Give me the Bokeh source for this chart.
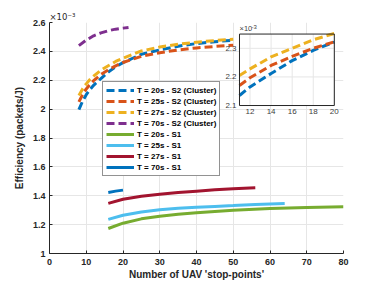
from bokeh.plotting import figure
from bokeh.models import Range1d, FixedTicker, Legend, LegendItem, Label
from bokeh.embed import file_html
from bokeh.resources import INLINE
from bokeh.core.properties import value

# ---------------- data (efficiency in units of 1e-3 packets/J) ----------------
s2_x = [8, 9, 10, 11, 12, 14, 16, 18, 20, 25, 30, 35, 40, 45, 50]
s2_t20 = [1.997, 2.055, 2.10, 2.135, 2.165, 2.212, 2.257, 2.293, 2.322, 2.38, 2.41, 2.436, 2.454, 2.467, 2.478]
s2_t25 = [2.05, 2.10, 2.14, 2.17, 2.197, 2.24, 2.272, 2.30, 2.323, 2.366, 2.391, 2.41, 2.424, 2.434, 2.443]
s2_t27 = [2.095, 2.14, 2.175, 2.205, 2.228, 2.27, 2.30, 2.33, 2.352, 2.403, 2.43, 2.449, 2.464, 2.475, 2.484]
s2_t70_x = [8, 10, 12, 14, 16, 18, 20, 21.5]
s2_t70 = [2.44, 2.478, 2.508, 2.528, 2.543, 2.554, 2.561, 2.566]

s1_t20_x = [16, 20, 25, 30, 35, 40, 50, 60, 70, 80]
s1_t20 = [1.173, 1.21, 1.24, 1.258, 1.272, 1.283, 1.30, 1.311, 1.318, 1.323]
s1_t25_x = [16, 20, 25, 30, 35, 40, 45, 50, 56, 64]
s1_t25 = [1.236, 1.265, 1.288, 1.303, 1.313, 1.32, 1.326, 1.332, 1.34, 1.347]
s1_t27_x = [16, 20, 25, 30, 35, 40, 45, 50, 56]
s1_t27 = [1.347, 1.376, 1.397, 1.41, 1.422, 1.432, 1.441, 1.448, 1.455]
s1_t70_x = [16, 18, 20]
s1_t70 = [1.423, 1.432, 1.439]

x_ticks = [0, 10, 20, 30, 40, 50, 60, 70, 80]
y_ticks = [1, 1.2, 1.4, 1.6, 1.8, 2, 2.2, 2.4, 2.6]
y_tick_labels = ["1", "1.2", "1.4", "1.6", "1.8", "2", "2.2", "2.4", "2.6"]

inset_x_ticks = [12, 14, 16, 18, 20]
inset_y_ticks = [2.1, 2.2, 2.3]
inset_y_tick_labels = ["2.1", "2.2", "2.3"]

labels_s2 = ["T = 20s - S2 (Cluster)", "T = 25s - S2 (Cluster)",
             "T = 27s - S2 (Cluster)", "T = 70s - S2 (Cluster)"]
labels_s1 = ["T = 20s - S1", "T = 25s - S1", "T = 27s - S1", "T = 70s - S1"]

# ---------------- styling ----------------
C_BLUE = "#0072BD"
C_ORANGE = "#D95319"
C_YELLOW = "#EDB120"
C_PURPLE = "#7E2F8E"
C_GREEN = "#77AC30"
C_LBLUE = "#4DBEEE"
C_RED = "#A2142F"
C_DBLUE = "#0072BD"
FONT = "Liberation Sans"
AX = "#262626"
GRID = "#e6e6e6"
DASH = "8 4"
LW = 3

X_RANGE = (0, 80)
Y_RANGE = (1, 2.6)
# inset: limits and where it sits in main data coordinates
INSET_X = (11, 20)
INSET_Y = (2.1, 2.35)
INSET_AT_X = (51.7, 77.5)
INSET_AT_Y = (2.025, 2.52)

sx = (INSET_X[1] - INSET_X[0]) / (INSET_AT_X[1] - INSET_AT_X[0])
sy = (INSET_Y[1] - INSET_Y[0]) / (INSET_AT_Y[1] - INSET_AT_Y[0])
ix0 = INSET_X[0] - (INSET_AT_X[0] - X_RANGE[0]) * sx
ix1 = INSET_X[1] + (X_RANGE[1] - INSET_AT_X[1]) * sx
iy0 = INSET_Y[0] - (INSET_AT_Y[0] - Y_RANGE[0]) * sy
iy1 = INSET_Y[1] + (Y_RANGE[1] - INSET_AT_Y[1]) * sy

p = figure(width=379, height=285, x_range=Range1d(*X_RANGE), y_range=Range1d(*Y_RANGE),
           output_backend="svg", toolbar_location=None,
           min_border_left=49, min_border_right=36, min_border_top=22, min_border_bottom=32)
p.extra_x_ranges = {"ix": Range1d(ix0, ix1)}
p.extra_y_ranges = {"iy": Range1d(iy0, iy1)}
p.outline_line_color = None
p.background_fill_color = "white"

p.title.text = "\u00d710\u207b\u00b3"
p.title.text_font = "DejaVu Sans"
p.title.text_font_size = "8.5px"
p.title.text_font_style = "normal"
p.title.text_color = AX
p.title.align = "left"
p.title.offset = 0
p.title.standoff = 2

p.xaxis.ticker = FixedTicker(ticks=x_ticks)
p.yaxis.ticker = FixedTicker(ticks=y_ticks)
p.yaxis.major_label_overrides = {t: l for t, l in zip(y_ticks, y_tick_labels)}
for ax in (p.xaxis[0], p.yaxis[0]):
    ax.axis_line_color = AX
    ax.major_tick_line_color = AX
    ax.major_tick_in = 3
    ax.major_tick_out = 0
    ax.minor_tick_line_color = None
    ax.major_label_text_font = FONT
    ax.major_label_text_font_style = "bold"
    ax.major_label_text_font_size = "9px"
    ax.major_label_text_color = AX
    ax.axis_label_text_font = FONT
    ax.axis_label_text_font_style = "bold"
    ax.axis_label_text_font_size = "10px"
    ax.axis_label_text_color = AX
p.xaxis.axis_label = "Number of UAV 'stop-points'"
p.yaxis.axis_label = "Efficiency (packets/J)"
p.xaxis.major_label_standoff = 5
p.xaxis.axis_label_standoff = 1
p.yaxis.major_label_standoff = 4
p.yaxis.axis_label_standoff = 5
p.xgrid.grid_line_color = GRID
p.ygrid.grid_line_color = GRID

# ---------------- main curves ----------------
r_s2 = []
for ys, c in zip([s2_t20, s2_t25, s2_t27], [C_BLUE, C_ORANGE, C_YELLOW]):
    r_s2.append(p.line(s2_x, ys, line_color=c, line_width=LW, line_dash=DASH))
r_s2.append(p.line(s2_t70_x, s2_t70, line_color=C_PURPLE, line_width=LW, line_dash=DASH))

r_s1 = []
for xs, ys, c in zip([s1_t20_x, s1_t25_x, s1_t27_x, s1_t70_x], [s1_t20, s1_t25, s1_t27, s1_t70],
                     [C_GREEN, C_LBLUE, C_RED, C_DBLUE]):
    r_s1.append(p.line(xs, ys, line_color=c, line_width=LW))

# ---------------- inset ----------------
IR = dict(x_range_name="ix", y_range_name="iy")
p.quad(left=[INSET_X[0]], right=[INSET_X[1]], bottom=[INSET_Y[0]], top=[INSET_Y[1]],
       fill_color="white", line_color=None, **IR)
p.segment(x0=inset_x_ticks, x1=inset_x_ticks, y0=[INSET_Y[0]] * len(inset_x_ticks),
          y1=[INSET_Y[1]] * len(inset_x_ticks), line_color=GRID, line_width=1, **IR)
p.segment(x0=[INSET_X[0]] * len(inset_y_ticks), x1=[INSET_X[1]] * len(inset_y_ticks),
          y0=inset_y_ticks, y1=inset_y_ticks, line_color=GRID, line_width=1, **IR)
for ys, c in zip([s2_t20, s2_t25, s2_t27], [C_BLUE, C_ORANGE, C_YELLOW]):
    sel = [(x, y) for x, y in zip(s2_x, ys) if INSET_X[0] <= x <= INSET_X[1]]
    p.line([a for a, _ in sel], [b for _, b in sel], line_color=c, line_width=LW,
           line_dash=DASH, **IR)
p.quad(left=[INSET_X[0]], right=[INSET_X[1]], bottom=[INSET_Y[0]], top=[INSET_Y[1]],
       fill_color=None, line_color=AX, line_width=1, **IR)
p.text(x=inset_x_ticks, y=[INSET_Y[0]] * len(inset_x_ticks), text=[str(t) for t in inset_x_ticks],
       y_offset=3, text_align="center", text_baseline="top", text_font=value(FONT),
       text_font_size="8px", text_color="#404040", **IR)
p.text(x=[INSET_X[0]] * len(inset_y_ticks), y=inset_y_ticks, text=inset_y_tick_labels,
       x_offset=-3, text_align="right", text_baseline="middle", text_font=value(FONT),
       text_font_size="8px", text_color="#404040", **IR)
p.add_layout(Label(x=INSET_X[0], y=INSET_Y[1], x_offset=0, y_offset=1, text="\u00d710",
                   text_font=FONT, text_font_size="7.5px", text_color="#404040",
                   text_baseline="bottom", **IR))
p.add_layout(Label(x=INSET_X[0], y=INSET_Y[1], x_offset=12, y_offset=5, text="-3",
                   text_font=FONT, text_font_size="6px", text_color="#404040",
                   text_baseline="bottom", **IR))

# ---------------- legend ----------------
items = [LegendItem(label=l, renderers=[r]) for l, r in zip(labels_s2 + labels_s1, r_s2 + r_s1)]
legend = Legend(items=items, location=(53, 77), margin=0, padding=3, spacing=1,
                label_height=10, glyph_height=10, glyph_width=28, label_standoff=3,
                label_text_font=FONT, label_text_font_style="bold", label_text_font_size="8px",
                label_text_color="black", border_line_color=AX, border_line_width=1,
                background_fill_color="white", background_fill_alpha=1)
p.add_layout(legend)

open("out.html", "w").write(file_html(p, INLINE))
